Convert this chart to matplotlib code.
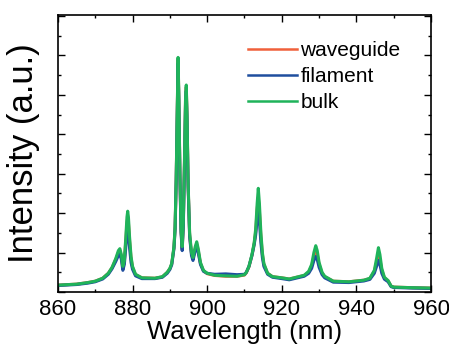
import matplotlib
matplotlib.use("Agg")
import matplotlib.pyplot as plt
from matplotlib.ticker import MultipleLocator, NullFormatter

# Spectra (wavelength in nm, intensity in a.u.)
wavelength = [
    860, 865, 868, 870, 872, 873.5, 874.5, 875.5, 876.2, 876.6,
    877.0, 877.4, 877.8, 878.2, 878.5, 878.7, 878.9, 879.2, 879.6, 880.0,
    880.8, 882.5, 886, 888, 889.3, 890.0, 890.5, 891.1, 891.4, 891.7,
    892.0, 892.2, 892.4, 892.7, 893.0, 893.3, 893.6, 893.9, 894.2, 894.4,
    894.6, 894.9, 895.3, 895.8, 896.2, 896.8, 897.2, 897.6, 898.2, 899,
    900, 902, 905, 908, 910, 910.5, 911.2, 912.0, 912.6, 913.0,
    913.4, 913.7, 914.0, 914.4, 914.8, 915.2, 916.2, 917.5, 920, 922,
    926, 927.2, 928.0, 928.6, 929.1, 929.5, 930.0, 930.8, 931.5, 933.8,
    938, 942, 943.6, 944.8, 945.4, 945.9, 946.3, 946.8, 947.5, 948.5,
    949.3, 950, 955, 960,
]
bulk = [
    0.35, 0.40, 0.48, 0.55, 0.70, 0.95, 1.25, 1.70, 2.10, 2.20,
    1.90, 1.30, 1.60, 2.80, 3.80, 4.10, 3.80, 2.80, 1.80, 1.30,
    0.90, 0.72, 0.70, 0.78, 1.00, 1.20, 1.45, 2.30, 3.30, 5.80,
    9.50, 11.9, 10.0, 6.00, 3.20, 2.30, 3.50, 6.50, 9.80, 10.5,
    9.00, 5.50, 3.00, 2.00, 1.75, 2.30, 2.55, 2.20, 1.50, 1.10,
    0.95, 0.85, 0.82, 0.80, 0.88, 1.00, 1.30, 1.90, 2.50, 3.20,
    4.50, 5.26, 4.50, 3.00, 2.00, 1.45, 0.95, 0.78, 0.72, 0.66,
    0.85, 1.05, 1.40, 2.00, 2.35, 2.10, 1.50, 1.00, 0.80, 0.55,
    0.52, 0.60, 0.70, 1.10, 1.70, 2.25, 1.90, 1.20, 0.75, 0.58,
    0.30, 0.25, 0.22, 0.20,
]
filament = [
    0.33, 0.38, 0.45, 0.52, 0.66, 0.90, 1.18, 1.55, 1.85, 1.95,
    1.65, 1.10, 1.40, 2.30, 3.00, 3.20, 3.00, 2.25, 1.50, 1.15,
    0.82, 0.68, 0.68, 0.75, 0.95, 1.14, 1.38, 2.20, 3.15, 5.60,
    9.20, 11.6, 9.70, 5.80, 3.00, 2.10, 3.30, 6.20, 9.50, 10.2,
    8.70, 5.30, 2.80, 1.85, 1.60, 2.10, 2.30, 2.00, 1.40, 1.05,
    0.95, 0.90, 0.92, 0.88, 0.90, 1.00, 1.30, 1.85, 2.40, 2.90,
    3.70, 4.10, 3.60, 2.50, 1.75, 1.30, 0.90, 0.75, 0.68, 0.62,
    0.80, 0.95, 1.20, 1.60, 1.80, 1.65, 1.25, 0.88, 0.72, 0.50,
    0.48, 0.56, 0.64, 0.95, 1.30, 1.60, 1.40, 0.95, 0.65, 0.52,
    0.27, 0.23, 0.20, 0.18,
]
waveguide = [
    0.35, 0.40, 0.48, 0.55, 0.70, 0.95, 1.23, 1.65, 2.00, 2.12,
    1.80, 1.22, 1.55, 2.60, 3.50, 3.75, 3.50, 2.60, 1.70, 1.25,
    0.88, 0.72, 0.70, 0.77, 1.00, 1.18, 1.42, 2.25, 3.25, 5.70,
    9.40, 11.8, 9.90, 5.90, 3.10, 2.20, 3.40, 6.40, 9.70, 10.4,
    8.90, 5.40, 2.90, 1.95, 1.70, 2.20, 2.45, 2.10, 1.45, 1.08,
    0.93, 0.84, 0.80, 0.80, 0.86, 0.98, 1.28, 1.85, 2.45, 3.05,
    4.20, 4.80, 4.10, 2.80, 1.90, 1.40, 0.95, 0.78, 0.72, 0.66,
    0.84, 1.00, 1.32, 1.80, 2.10, 1.90, 1.40, 0.95, 0.78, 0.55,
    0.52, 0.60, 0.68, 1.05, 1.50, 1.95, 1.65, 1.10, 0.72, 0.56,
    0.30, 0.25, 0.22, 0.20,
]

series = [
    ("waveguide", waveguide, "#f0603a"),
    ("filament", filament, "#1f4e9e"),
    ("bulk", bulk, "#1fb35a"),
]

plt.rcParams["font.family"] = ["Liberation Sans", "DejaVu Sans"]

fig = plt.figure(figsize=(4.49, 3.57), dpi=100)
ax = fig.add_axes([0.129, 0.182, 0.831, 0.776])

for label, values, color in series:
    ax.plot(wavelength, values, color=color, lw=2.2, label=label,
            solid_joinstyle="round")

ax.set_xlim(860, 960)
ax.set_ylim(0, 14.05)

ax.xaxis.set_major_locator(MultipleLocator(20))
ax.xaxis.set_minor_locator(MultipleLocator(10))
ax.yaxis.set_major_locator(MultipleLocator(2))
ax.yaxis.set_minor_locator(MultipleLocator(1))
ax.yaxis.set_major_formatter(NullFormatter())

ax.tick_params(which="both", direction="in", top=True, right=True,
               width=1.0, labelsize=16, pad=5)
ax.tick_params(which="major", length=5)
ax.tick_params(which="minor", length=2.5)
for spine in ax.spines.values():
    spine.set_linewidth(1.2)

ax.set_xlabel("Wavelength (nm)", fontsize=18.5, labelpad=0)
ax.set_ylabel("Intensity (a.u.)", fontsize=25, labelpad=8)

leg = ax.legend(loc="upper left", bbox_to_anchor=(0.51, 0.905), frameon=False,
                fontsize=15, handlelength=2.35, handletextpad=0.15,
                labelspacing=0.33, borderaxespad=0, borderpad=0)
for line in leg.get_lines():
    line.set_linewidth(1.8)

fig.savefig("out.png", dpi=100)
